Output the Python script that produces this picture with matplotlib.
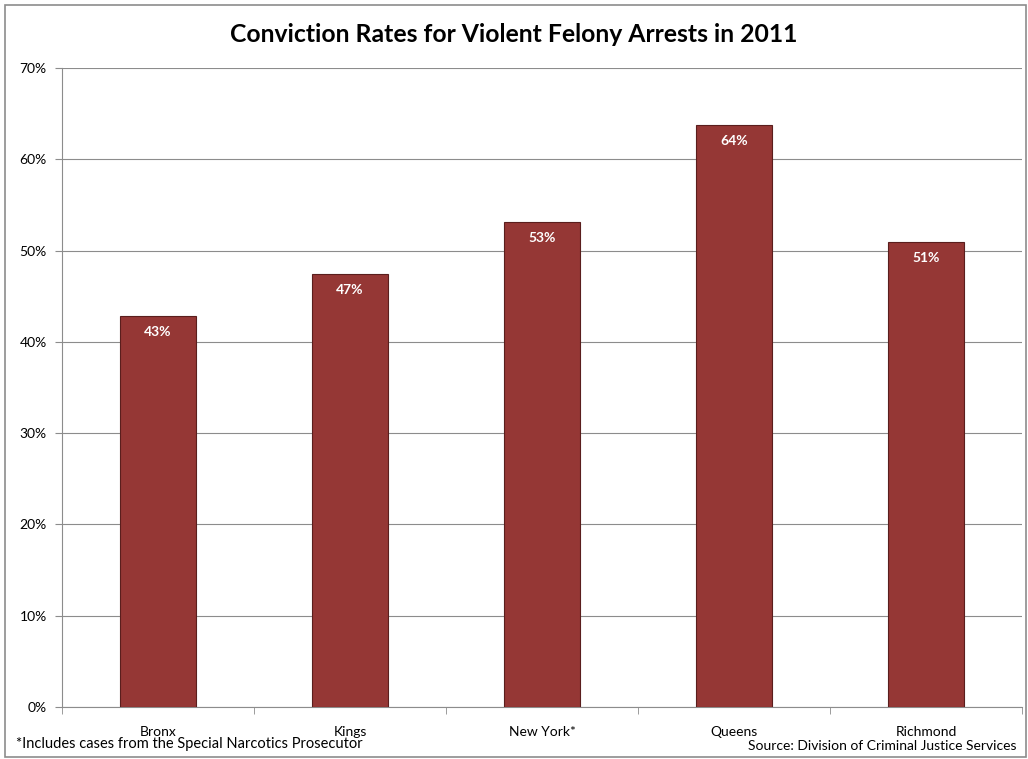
import matplotlib
matplotlib.use("Agg")
import matplotlib.pyplot as plt
from matplotlib.patches import Rectangle
from matplotlib.ticker import FuncFormatter, MultipleLocator

categories = ["Bronx", "Kings", "New York*", "Queens", "Richmond"]
rates = [42.8, 47.4, 53.1, 63.8, 50.9]
labels = ["43%", "47%", "53%", "64%", "51%"]

plt.rcParams['font.family'] = ['Lato', 'DejaVu Sans']

fig = plt.figure(figsize=(10.28, 7.59), dpi=100)
ax = fig.add_axes([62/1028, 52/759, 960/1028, 639/759])

x = list(range(len(categories)))
ax.bar(x, rates, width=0.4, color="#953735", edgecolor="#5a1e1d", linewidth=0.8, zorder=3)
for xi, r, lab in zip(x, rates, labels):
    ax.text(xi, r - 1.1, lab, ha="center", va="top", color="white",
            fontsize=10, fontweight="bold", zorder=4)

ax.set_xlim(-0.5, len(categories) - 0.5)
ax.set_ylim(0, 70)
ax.yaxis.set_major_locator(MultipleLocator(10))
ax.yaxis.set_major_formatter(FuncFormatter(lambda v, p: f"{int(v)}%"))
ax.grid(axis="y", color="#8c8c8c", linewidth=0.8, zorder=0)
ax.set_axisbelow(True)

ax.set_xticks(x)
ax.set_xticklabels(categories, fontsize=10)
ax.set_xticks([i + 0.5 for i in range(-1, len(categories))], minor=True)
ax.tick_params(axis="x", which="major", length=0, pad=14)
ax.tick_params(axis="x", which="minor", length=5, color="#8c8c8c")
ax.tick_params(axis="y", length=5, color="#8c8c8c", labelsize=10, pad=6)

for s in ["top", "right"]:
    ax.spines[s].set_visible(False)
ax.spines["left"].set_color("#8c8c8c")
ax.spines["bottom"].set_color("#8c8c8c")

fig.text(0.5, 1 - 35/759, "Conviction Rates for Violent Felony Arrests in 2011",
         ha="center", va="center", fontsize=17.8, fontweight="bold")
fig.text(16/1028, 1 - 744/759, "*Includes cases from the Special Narcotics Prosecutor",
         ha="left", va="center", fontsize=10.5)
fig.text(1016/1028, 1 - 746/759, "Source: Division of Criminal Justice Services",
         ha="right", va="center", fontsize=10)

fig.patches.append(Rectangle((5/1028, 2/759), 1021/1028, 752/759, transform=fig.transFigure,
                             fill=False, edgecolor="#8c8c8c", linewidth=1.2))

fig.savefig("out.png", dpi=100)
